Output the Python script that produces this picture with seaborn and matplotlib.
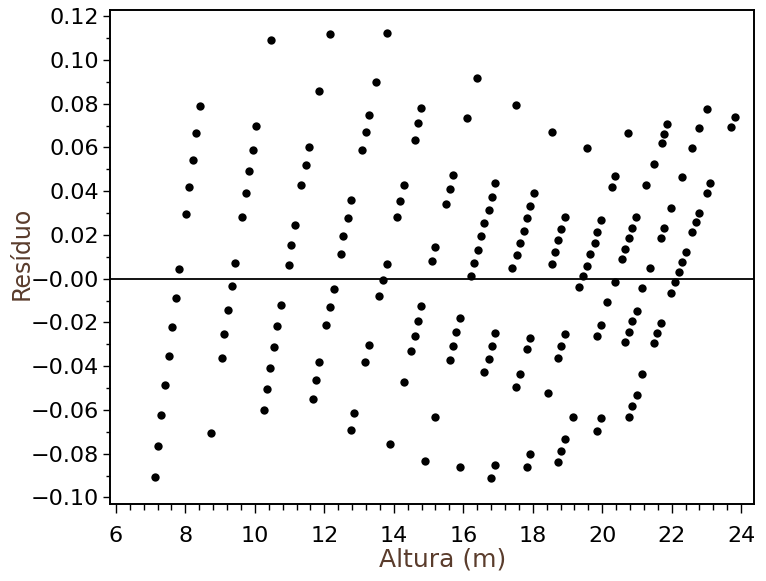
import pandas as pd
import seaborn as sns
import matplotlib.pyplot as plt
from matplotlib.ticker import MultipleLocator, FuncFormatter

# --- data (Altura in m, residual) ---
altura = [
    7.12, 7.21, 7.30, 7.41, 7.53, 7.61, 7.73, 7.82, 8.02, 8.10, 8.22, 8.31, 8.42,
    8.74, 9.05, 9.11, 9.23, 9.34, 9.43, 9.64, 9.75, 9.84, 9.95, 10.03, 10.47,
    10.27, 10.35, 10.44, 10.55, 10.64, 10.75, 10.98, 11.04, 11.16, 11.33, 11.47, 11.56, 11.85, 12.17,
    11.68, 11.76, 11.85, 12.05, 12.17, 12.28, 12.48, 12.54, 12.69, 12.77, 13.09, 13.20, 13.29, 13.49, 13.81,
    12.77, 12.86, 13.18, 13.29, 13.58, 13.69, 13.81, 14.10, 14.18, 14.30, 14.62, 14.70, 14.79,
    13.90, 14.30, 14.50, 14.62, 14.70, 14.79, 15.11, 15.19, 15.51, 15.63, 15.71, 16.12, 16.40,
    14.90, 15.19, 15.63, 15.71, 15.80, 15.91, 16.23, 16.32, 16.43, 16.52, 16.61, 16.75, 16.84, 16.92, 17.53,
    15.91, 16.61, 16.75, 16.84, 16.92, 17.41, 17.56, 17.64, 17.76, 17.84, 17.93, 18.05, 18.56,
    16.81, 16.92, 17.53, 17.64, 17.84, 17.93, 18.56, 18.65, 18.74, 18.82, 18.94, 19.57,
    17.84, 17.93, 18.45, 18.74, 18.82, 18.94, 19.34, 19.46, 19.57, 19.66, 19.78, 19.86, 19.98, 20.27, 20.38, 20.75,
    18.74, 18.82, 18.94, 19.17, 19.86, 19.98, 20.15, 20.38, 20.58, 20.67, 20.78, 20.87, 20.96, 21.27, 21.48, 21.71, 21.79, 21.88,
    19.86, 19.98, 20.67, 20.78, 20.87, 20.99, 21.16, 21.39, 21.68, 21.79, 21.99, 22.31, 22.60, 22.80, 23.03,
    20.78, 20.87, 20.99, 21.16, 21.48, 21.59, 21.68, 21.99, 22.11, 22.22, 22.31, 22.40, 22.60, 22.69, 22.80, 23.03, 23.09, 23.72, 23.81,
]
residuo = [
    -0.0905, -0.0763, -0.0625, -0.0488, -0.0355, -0.0220, -0.0088, 0.0045, 0.0297, 0.0420, 0.0544, 0.0664, 0.0788,
    -0.0707, -0.0363, -0.0254, -0.0143, -0.0033, 0.0073, 0.0284, 0.0390, 0.0490, 0.0590, 0.0696, 0.1090,
    -0.0600, -0.0506, -0.0410, -0.0314, -0.0218, -0.0121, 0.0064, 0.0155, 0.0247, 0.0430, 0.0520, 0.0600, 0.0860, 0.1120,
    -0.0550, -0.0465, -0.0380, -0.0213, -0.0130, -0.0048, 0.0114, 0.0196, 0.0279, 0.0360, 0.0590, 0.0669, 0.0747, 0.0898, 0.1123,
    -0.0693, -0.0614, -0.0381, -0.0303, -0.0080, -0.0005, 0.0068, 0.0284, 0.0356, 0.0430, 0.0636, 0.0710, 0.0778,
    -0.0757, -0.0474, -0.0330, -0.0261, -0.0192, -0.0124, 0.0082, 0.0146, 0.0343, 0.0410, 0.0476, 0.0733, 0.0916,
    -0.0835, -0.0634, -0.0372, -0.0308, -0.0244, -0.0180, 0.0013, 0.0073, 0.0132, 0.0196, 0.0256, 0.0315, 0.0375, 0.0439, 0.0792,
    -0.0863, -0.0427, -0.0368, -0.0310, -0.0250, 0.0050, 0.0109, 0.0164, 0.0220, 0.0279, 0.0334, 0.0390, 0.0669,
    -0.0910, -0.0850, -0.0496, -0.0436, -0.0323, -0.0271, 0.0067, 0.0122, 0.0177, 0.0228, 0.0282, 0.0595,
    -0.0862, -0.0800, -0.0524, -0.0362, -0.0307, -0.0253, -0.0038, 0.0013, 0.0059, 0.0113, 0.0164, 0.0215, 0.0268, 0.0417, 0.0467, 0.0664,
    -0.0840, -0.0786, -0.0731, -0.0630, -0.0263, -0.0212, -0.0108, -0.0015, 0.0090, 0.0137, 0.0184, 0.0231, 0.0282, 0.0429, 0.0522, 0.0618, 0.0660, 0.0708,
    -0.0694, -0.0638, -0.0290, -0.0243, -0.0193, -0.0147, -0.0042, 0.0050, 0.0184, 0.0231, 0.0323, 0.0463, 0.0596, 0.0688, 0.0774,
    -0.0634, -0.0584, -0.0533, -0.0437, -0.0294, -0.0248, -0.0202, -0.0065, -0.0015, 0.0030, 0.0076, 0.0122, 0.0213, 0.0257, 0.0300, 0.0390, 0.0435, 0.0693, 0.0737,
]

df = pd.DataFrame({"Altura": altura, "Residuo": residuo})

sns.set_style("ticks")
plt.rcParams["font.family"] = ["DejaVu Sans"]

fig = plt.figure(figsize=(7.66, 5.81), dpi=100)
ax = fig.add_axes([0.1436, 0.1325, 0.8407, 0.8503])

sns.scatterplot(data=df, x="Altura", y="Residuo", color="black",
                marker="o", s=36, linewidth=0, ax=ax)

ax.axhline(0, color="black", lw=1.3, zorder=1)

ax.set_xlim(5.83, 24.37)
ax.set_ylim(-0.103, 0.1228)

ax.xaxis.set_major_locator(MultipleLocator(2))
ax.xaxis.set_minor_locator(MultipleLocator(0.4))
ax.yaxis.set_major_locator(MultipleLocator(0.02))
ax.yaxis.set_minor_locator(MultipleLocator(0.01))
ax.yaxis.set_major_formatter(FuncFormatter(lambda v, p: f"{v:.2f}".replace("-", "\u2212")))

for s in ax.spines.values():
    s.set_visible(True)
    s.set_linewidth(1.4)
    s.set_color("black")

ax.tick_params(axis="x", which="major", length=6.5, width=1, pad=9, labelsize=16)
ax.tick_params(axis="x", which="minor", length=4, width=1)
ax.tick_params(axis="y", which="major", length=5, width=1, pad=3, labelsize=16)
ax.tick_params(axis="y", which="minor", length=3, width=1)
ax.tick_params(which="both", color="black", labelcolor="black")

lab_color = "#5a3c2c"
ax.set_xlabel("Altura (m)", fontsize=18, color=lab_color)
ax.set_ylabel("Resíduo", fontsize=17, color=lab_color)
ax.xaxis.set_label_coords(0.516, -0.089)
ax.yaxis.set_label_coords(-0.118, 0.507)

fig.savefig("out.png", dpi=100)
